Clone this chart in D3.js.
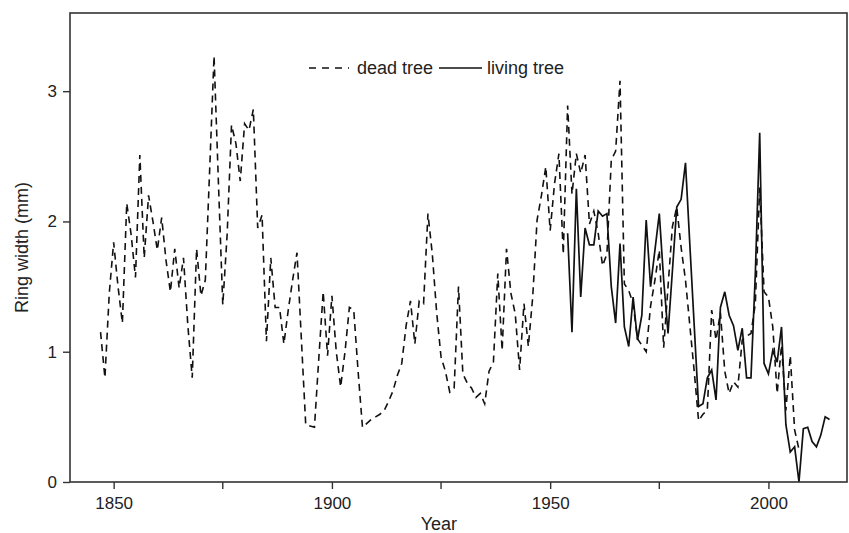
<!DOCTYPE html>
<html>
<head>
<meta charset="utf-8">
<script src="https://cdn.jsdelivr.net/npm/d3@7"></script>
<style>
  body { margin: 0; background: #fff; }
  text { font-family: "Liberation Sans", Arial, sans-serif; fill: #222; }
</style>
</head>
<body>
<svg id="chart" width="849" height="533"></svg>
<script>
// ring widths (mm), one value per year
const deadStart = 1847
const deadWidth = [
  1.15, 0.80, 1.45,
  1.84, 1.50, 1.22, 2.14, 1.90, 1.57, 2.51, 1.72, 2.20, 2.00,
  1.78, 2.03, 1.70, 1.46, 1.79, 1.49, 1.72, 1.20, 0.80, 1.79,
  1.43, 1.55, 2.40, 3.27, 2.30, 1.36, 1.90, 2.74, 2.60, 2.31,
  2.75, 2.70, 2.86, 1.95, 2.05, 1.08, 1.72, 1.34, 1.34, 1.06,
  1.32, 1.55, 1.76, 1.10, 0.44, 0.43, 0.42, 0.95, 1.46, 0.97,
  1.43, 1.00, 0.73, 1.00, 1.34, 1.32, 0.85, 0.42, 0.45, 0.48,
  0.50, 0.52, 0.55, 0.62, 0.70, 0.82, 0.91, 1.20, 1.39, 1.06,
  1.39, 1.37, 2.06, 1.75, 1.30, 0.96, 0.85, 0.69, 0.72, 1.50,
  0.83, 0.76, 0.72, 0.65, 0.68, 0.60, 0.85, 0.92, 1.60, 1.01,
  1.79, 1.45, 1.29, 0.86, 1.37, 1.04, 1.42, 2.01, 2.20, 2.42,
  1.93, 2.29, 2.52, 1.75, 2.89, 2.21, 2.52, 2.37, 2.51, 1.98,
  2.08, 1.91, 1.66, 1.75, 2.47, 2.54, 3.08, 1.52, 1.47, 1.37,
  1.10, 1.05, 1.00, 1.35, 1.55, 1.78, 1.03, 1.50, 1.96, 2.11,
  1.80, 1.55, 1.20, 0.85, 0.47, 0.52, 0.55, 1.32, 1.09, 1.30,
  0.85, 0.68, 0.77, 0.73, 1.09, 1.12, 1.14, 1.37, 2.26, 1.46,
  1.42, 1.19, 0.68, 1.05, 0.55, 0.97, 0.40, 0.25
]

const livingStart = 1954
const livingWidth = [
  1.91, 1.15, 2.25, 1.42, 1.95, 1.82,
  1.82, 2.08, 2.04, 2.06, 1.50, 1.22, 1.83, 1.19, 1.04, 1.42,
  1.09, 1.28, 2.01, 1.50, 1.78, 2.06, 1.55, 1.14, 1.62, 2.11,
  2.17, 2.45, 1.82, 1.20, 0.58, 0.60, 0.80, 0.86, 0.63, 1.34,
  1.46, 1.28, 1.20, 1.01, 1.18, 0.80, 0.80, 1.60, 2.68, 0.91,
  0.83, 1.01, 0.92, 1.19, 0.44, 0.23, 0.27, 0.00, 0.41, 0.42,
  0.31, 0.27, 0.36, 0.50, 0.48
]

const xTicks = [1850, 1900, 1950, 2000]
const xMinorTicks = [1875, 1925, 1975]
const yTicks = [0, 1, 2, 3]
const seriesNames = ["dead tree", "living tree"]

const svg = d3.select("#chart")
const margin = {top: 13, right: 2, bottom: 51, left: 70}
const width = 849 - margin.left - margin.right
const height = 533 - margin.top - margin.bottom

const x = d3.scaleLinear().domain([1840, 2018]).range([0, width])
const y = d3.scaleLinear().domain([0, 3.6]).range([height, 0])

const g = svg.append("g").attr("transform", `translate(${margin.left},${margin.top})`)

const toPoints = (start, vals) => vals.map((v, i) => ({year: start + i, w: v}))

const line = d3.line()
    .x(d => x(d.year))
    .y(d => y(d.w))

g.append("path")
    .datum(toPoints(deadStart, deadWidth))
    .attr("d", line)
    .attr("fill", "none")
    .attr("stroke", "#111")
    .attr("stroke-width", 1.6)
    .attr("stroke-dasharray", "7,5")

g.append("path")
    .datum(toPoints(livingStart, livingWidth))
    .attr("d", line)
    .attr("fill", "none")
    .attr("stroke", "#111")
    .attr("stroke-width", 1.7)

// frame
g.append("rect")
    .attr("width", width)
    .attr("height", height)
    .attr("fill", "none")
    .attr("stroke", "#333")
    .attr("stroke-width", 1.6)

// axes
const xAxis = g.append("g")
    .attr("transform", `translate(0,${height})`)
    .call(d3.axisBottom(x).tickValues(xTicks).tickFormat(d3.format("d")).tickSize(7).tickPadding(8))
xAxis.append("g")
    .selectAll("line")
    .data(xMinorTicks)
    .enter().append("line")
    .attr("x1", d => x(d)).attr("x2", d => x(d))
    .attr("y1", 0).attr("y2", 7)

const yAxis = g.append("g")
    .call(d3.axisLeft(y).tickValues(yTicks).tickFormat(d3.format("d")).tickSize(7).tickPadding(6))

for (const ax of [xAxis, yAxis]) {
    ax.select(".domain").remove()
    ax.selectAll("line").attr("stroke", "#333").attr("stroke-width", 1.4)
    ax.selectAll("text").style("font-size", "17px").attr("fill", "#222")
}

// axis titles
svg.append("text")
    .attr("x", margin.left + x(1924.5))
    .attr("y", 530)
    .attr("text-anchor", "middle")
    .style("font-size", "18px")
    .text("Year")

svg.append("text")
    .attr("transform", `translate(28,${margin.top + height / 2}) rotate(-90)`)
    .attr("text-anchor", "middle")
    .style("font-size", "18px")
    .text("Ring width (mm)")

// legend
const legend = svg.append("g").attr("transform", "translate(309,68)")
legend.append("line")
    .attr("x1", 0).attr("x2", 40).attr("y1", 0).attr("y2", 0)
    .attr("stroke", "#111").attr("stroke-width", 1.6).attr("stroke-dasharray", "7,6")
legend.append("text")
    .attr("x", 48).attr("y", 6)
    .style("font-size", "18px")
    .text(seriesNames[0])
legend.append("line")
    .attr("x1", 130).attr("x2", 173).attr("y1", 0).attr("y2", 0)
    .attr("stroke", "#111").attr("stroke-width", 1.6)
legend.append("text")
    .attr("x", 178).attr("y", 6)
    .style("font-size", "18px")
    .text(seriesNames[1])
</script>
</body>
</html>
